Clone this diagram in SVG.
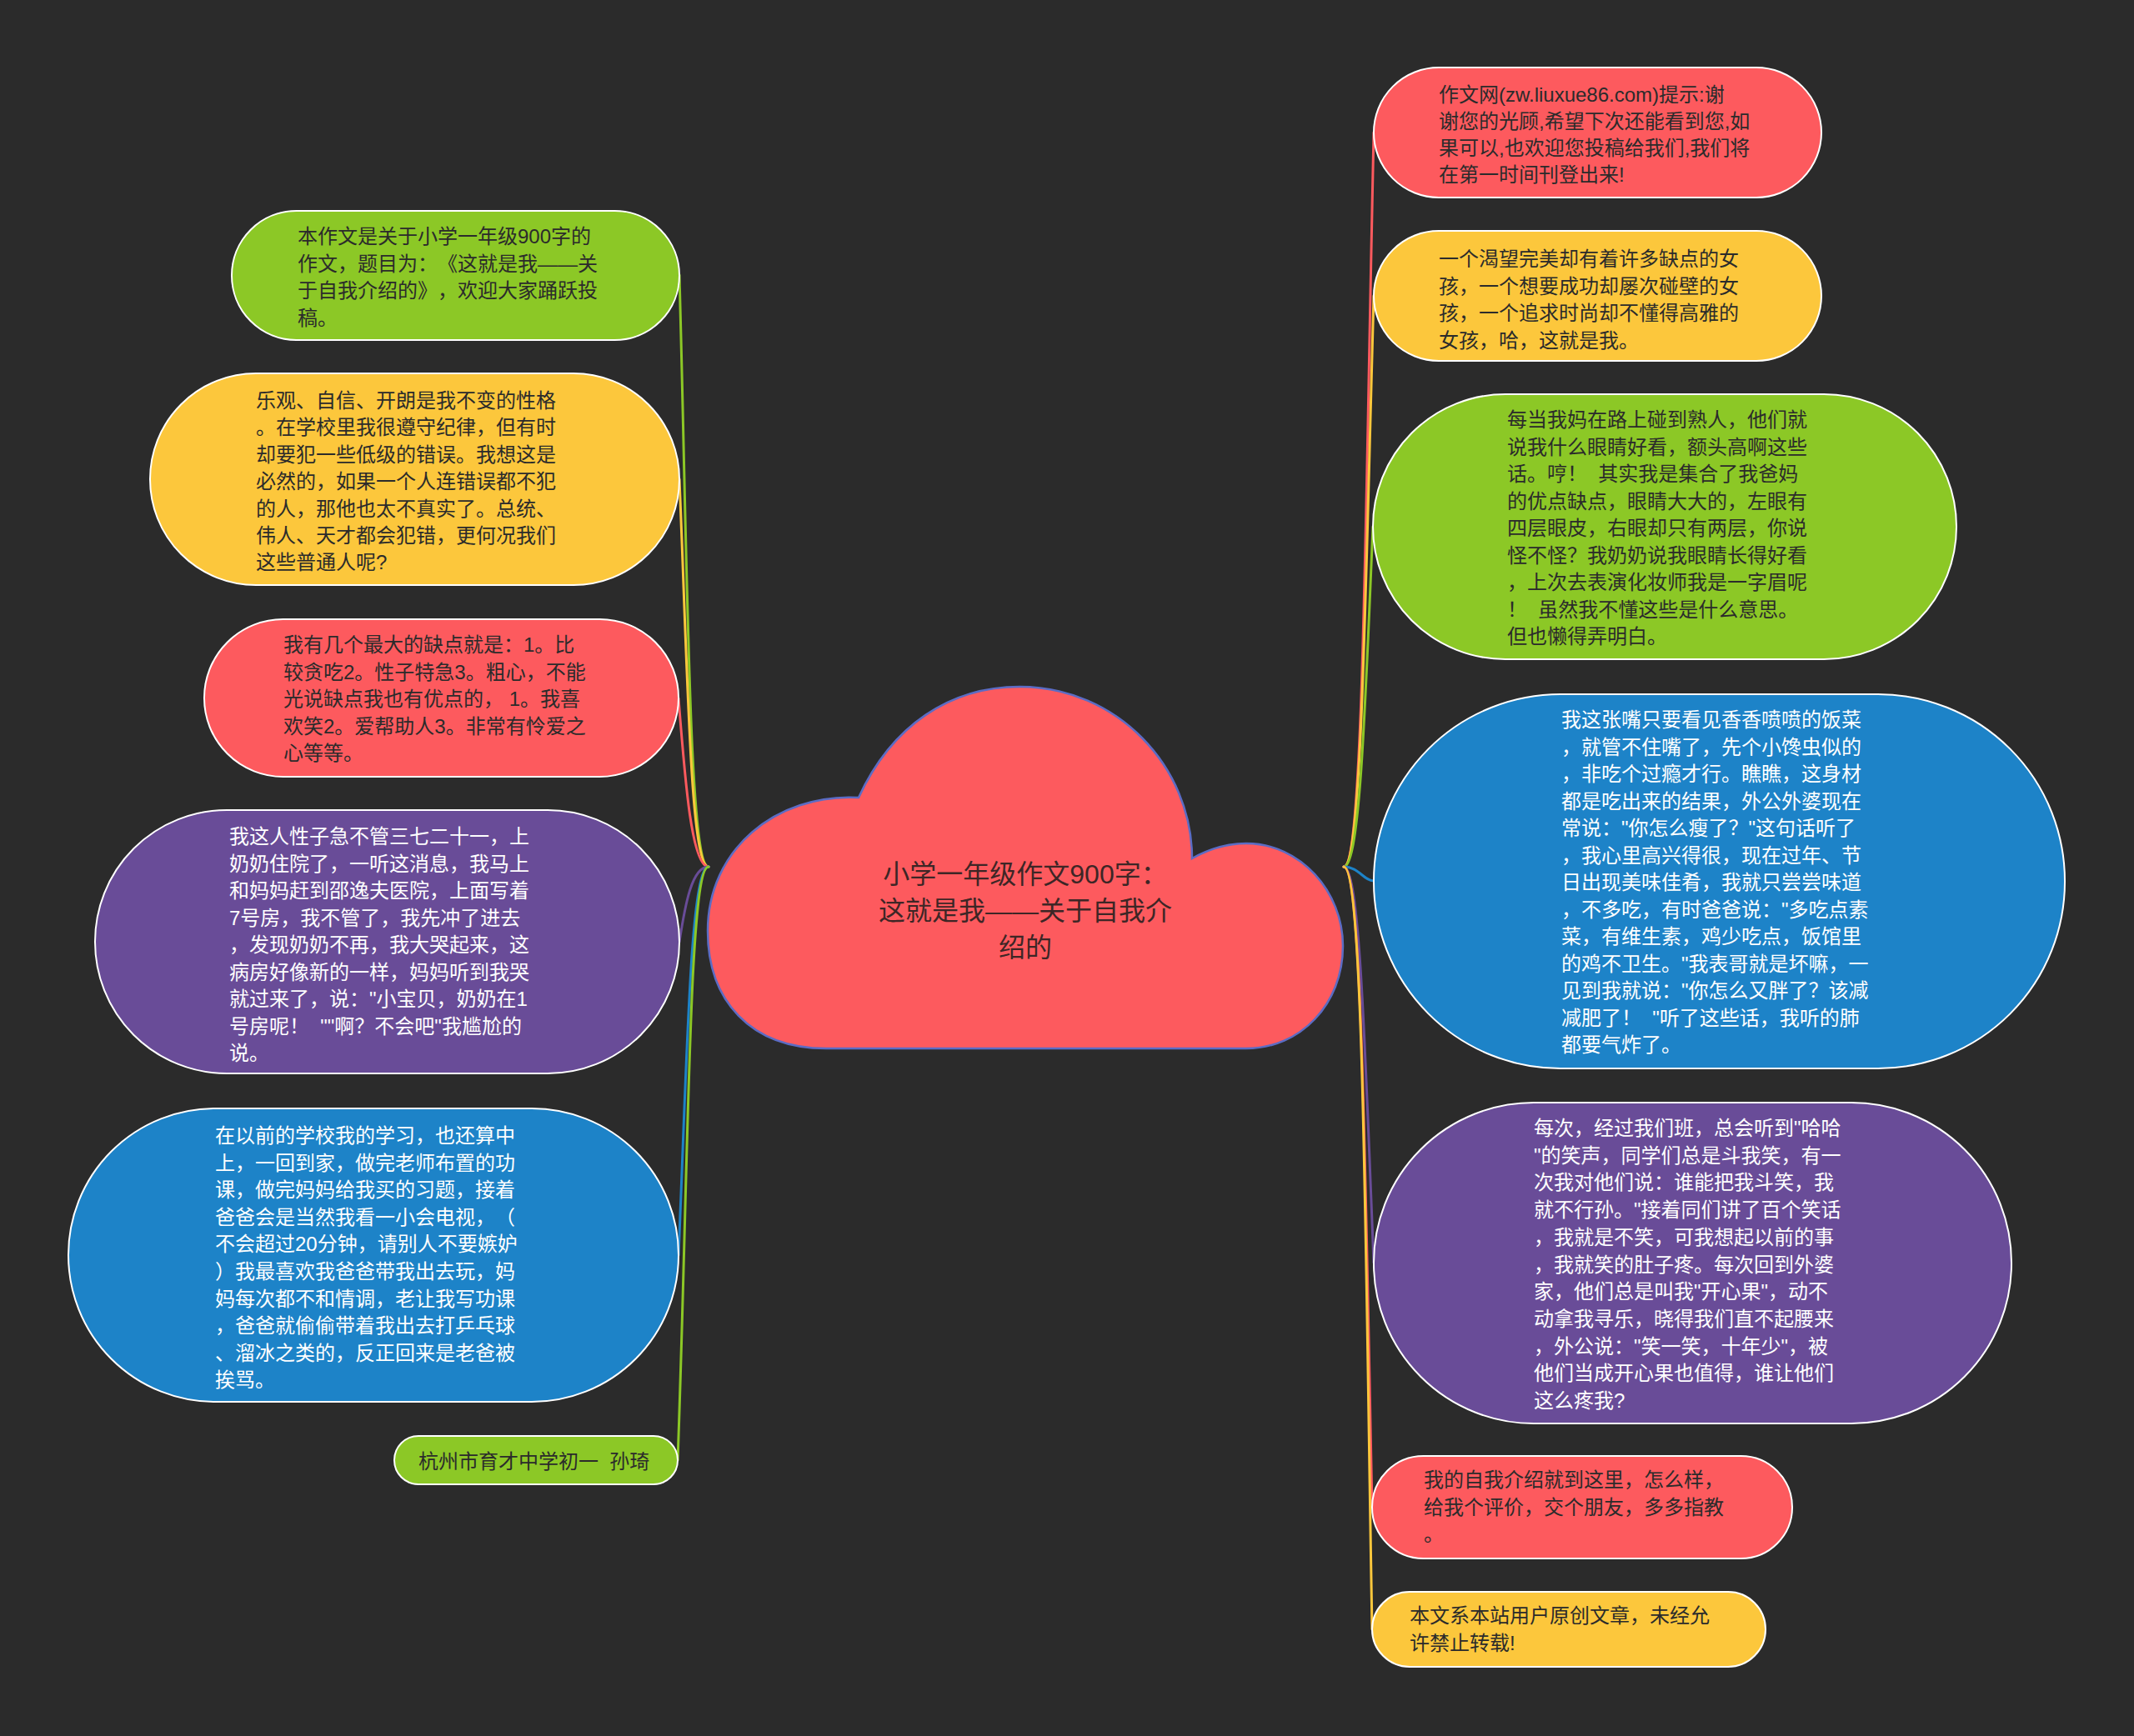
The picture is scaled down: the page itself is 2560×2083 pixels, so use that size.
<svg xmlns="http://www.w3.org/2000/svg" width="2560" height="2083" viewBox="0 0 2560 2083">
<style>
.t{font-family:"Liberation Sans","Noto Sans CJK SC",sans-serif;font-size:24px;dominant-baseline:central;text-spacing-trim:space-all}
.dk{fill:#2b2b2b}
.wt{fill:#ffffff}
.nd{stroke:#ffffff;stroke-width:2}
.red{fill:#fd5a5e}
.yel{fill:#fcc73c}
.grn{fill:#8cc826}
.blu{fill:#1d83c8}
.pur{fill:#694c98}
.c{fill:none;stroke-width:3;stroke-linecap:round}
</style>
<rect width="2560" height="2083" fill="#2b2b2b"/>
<g id="connectors">
<path class="c" stroke="#8cc826" d="M850 1040 C826 1040 825 685 815 330"/>
<path class="c" stroke="#fcc73c" d="M850 1040 C828 1040 825 808 815 575"/>
<path class="c" stroke="#fd5a5e" d="M850 1040 C830 1040 822 940 814 838"/>
<path class="c" stroke="#694c98" d="M850 1040 C830 1040 822 1085 815 1130"/>
<path class="c" stroke="#1d83c8" d="M850 1040 C828 1040 824 1273 814 1506"/>
<path class="c" stroke="#8cc826" d="M850 1040 C826 1040 826 1396 813 1752"/>
<path class="c" stroke="#fd5a5e" d="M1612 1040 C1636 1040 1638 600 1648 159"/>
<path class="c" stroke="#fcc73c" d="M1612 1040 C1634 1040 1638 698 1648 355"/>
<path class="c" stroke="#8cc826" d="M1612 1040 C1632 1040 1638 836 1647 632"/>
<path class="c" stroke="#1d83c8" d="M1612 1040 C1630 1040 1636 1057 1648 1057"/>
<path class="c" stroke="#694c98" d="M1612 1040 C1632 1040 1638 1278 1648 1515"/>
<path class="c" stroke="#fd5a5e" d="M1612 1040 C1634 1040 1638 1424 1646 1808"/>
<path class="c" stroke="#fcc73c" d="M1612 1040 C1636 1040 1638 1498 1646 1955"/>
</g>
<g id="root">
<path d="M991 1258 C900 1258 849 1200 849 1117 C849 1020 930 952 1030 957 C1070 870 1140 824 1223 824 C1340 824 1430 920 1430 1030 C1455 1016 1475 1012 1495 1012 C1560 1012 1611 1070 1611 1135 C1611 1205 1560 1258 1495 1258 Z" fill="#fd5a5e" stroke="#5b6cc4" stroke-width="2.5"/>
<text class="t" style="font-size:32px" fill="#3d2626" text-anchor="middle"><tspan x="1230" y="1049">小学一年级作文900字：</tspan><tspan x="1230" y="1093">这就是我——关于自我介</tspan><tspan x="1230" y="1137">绍的</tspan></text>
</g>
<g id="L1">
<rect class="nd grn" x="278" y="253" width="537" height="155" rx="77.5"/>
<text class="t dk"><tspan x="357" y="283">本作文是关于小学一年级900字的</tspan><tspan x="357" y="315.5">作文，题目为：《这就是我——关</tspan><tspan x="357" y="348">于自我介绍的》，欢迎大家踊跃投</tspan><tspan x="357" y="380.5">稿。</tspan></text>
</g>
<g id="L2">
<rect class="nd yel" x="180" y="448" width="635" height="254" rx="127"/>
<text class="t dk"><tspan x="307" y="480">乐观、自信、开朗是我不变的性格</tspan><tspan x="307" y="512.4">。在学校里我很遵守纪律，但有时</tspan><tspan x="307" y="544.8">却要犯一些低级的错误。我想这是</tspan><tspan x="307" y="577.2">必然的，如果一个人连错误都不犯</tspan><tspan x="307" y="609.6">的人，那他也太不真实了。总统、</tspan><tspan x="307" y="642">伟人、天才都会犯错，更何况我们</tspan><tspan x="307" y="674.4">这些普通人呢?</tspan></text>
</g>
<g id="L3">
<rect class="nd red" x="245" y="743" width="569" height="189" rx="94.5"/>
<text class="t dk"><tspan x="340" y="773">我有几个最大的缺点就是：1。比</tspan><tspan x="340" y="805.5">较贪吃2。性子特急3。粗心，不能</tspan><tspan x="340" y="838">光说缺点我也有优点的， 1。我喜</tspan><tspan x="340" y="870.5">欢笑2。爱帮助人3。非常有怜爱之</tspan><tspan x="340" y="903">心等等。</tspan></text>
</g>
<g id="L4">
<rect class="nd pur" x="114" y="972" width="701" height="316" rx="158"/>
<text class="t wt"><tspan x="275" y="1003">我这人性子急不管三七二十一，上</tspan><tspan x="275" y="1035.5">奶奶住院了，一听这消息，我马上</tspan><tspan x="275" y="1068">和妈妈赶到邵逸夫医院，上面写着</tspan><tspan x="275" y="1100.5">7号房，我不管了，我先冲了进去</tspan><tspan x="275" y="1133">，发现奶奶不再，我大哭起来，这</tspan><tspan x="275" y="1165.5">病房好像新的一样，妈妈听到我哭</tspan><tspan x="275" y="1198">就过来了，说："小宝贝，奶奶在1</tspan><tspan x="275" y="1230.5">号房呢！&#160;&#160;""啊？不会吧"我尴尬的</tspan><tspan x="275" y="1263">说。</tspan></text>
</g>
<g id="L5">
<rect class="nd blu" x="82" y="1330" width="732" height="352" rx="176"/>
<text class="t wt"><tspan x="258" y="1362">在以前的学校我的学习，也还算中</tspan><tspan x="258" y="1394.6">上，一回到家，做完老师布置的功</tspan><tspan x="258" y="1427.2">课，做完妈妈给我买的习题，接着</tspan><tspan x="258" y="1459.8">爸爸会是当然我看一小会电视，（</tspan><tspan x="258" y="1492.4">不会超过20分钟，请别人不要嫉妒</tspan><tspan x="258" y="1525">）我最喜欢我爸爸带我出去玩，妈</tspan><tspan x="258" y="1557.6">妈每次都不和情调，老让我写功课</tspan><tspan x="258" y="1590.2">，爸爸就偷偷带着我出去打乒乓球</tspan><tspan x="258" y="1622.8">、溜冰之类的，反正回来是老爸被</tspan><tspan x="258" y="1655.4">挨骂。</tspan></text>
</g>
<g id="L6">
<rect class="nd grn" x="473" y="1723" width="340" height="58" rx="29"/>
<text class="t dk"><tspan x="502" y="1753">杭州市育才中学初一&#160;&#160;孙琦</tspan></text>
</g>
<g id="R1">
<rect class="nd red" x="1648" y="81" width="537" height="156" rx="78"/>
<text class="t dk"><tspan x="1726" y="113">作文网(zw.liuxue86.com)提示:谢</tspan><tspan x="1726" y="145">谢您的光顾,希望下次还能看到您,如</tspan><tspan x="1726" y="177">果可以,也欢迎您投稿给我们,我们将</tspan><tspan x="1726" y="209">在第一时间刊登出来!</tspan></text>
</g>
<g id="R2">
<rect class="nd yel" x="1648" y="277" width="537" height="156" rx="78"/>
<text class="t dk"><tspan x="1726" y="310">一个渴望完美却有着许多缺点的女</tspan><tspan x="1726" y="342.5">孩，一个想要成功却屡次碰壁的女</tspan><tspan x="1726" y="375">孩，一个追求时尚却不懂得高雅的</tspan><tspan x="1726" y="407.5">女孩，哈，这就是我。</tspan></text>
</g>
<g id="R3">
<rect class="nd grn" x="1647" y="473" width="700" height="318" rx="159"/>
<text class="t dk"><tspan x="1808" y="503">每当我妈在路上碰到熟人，他们就</tspan><tspan x="1808" y="535.5">说我什么眼睛好看，额头高啊这些</tspan><tspan x="1808" y="568">话。哼！&#160;&#160;其实我是集合了我爸妈</tspan><tspan x="1808" y="600.5">的优点缺点，眼睛大大的，左眼有</tspan><tspan x="1808" y="633">四层眼皮，右眼却只有两层，你说</tspan><tspan x="1808" y="665.5">怪不怪？我奶奶说我眼睛长得好看</tspan><tspan x="1808" y="698">，上次去表演化妆师我是一字眉呢</tspan><tspan x="1808" y="730.5">！&#160;&#160;虽然我不懂这些是什么意思。</tspan><tspan x="1808" y="763">但也懒得弄明白。</tspan></text>
</g>
<g id="R4">
<rect class="nd blu" x="1648" y="833" width="829" height="449" rx="224"/>
<text class="t wt"><tspan x="1873" y="863">我这张嘴只要看见香香喷喷的饭菜</tspan><tspan x="1873" y="895.5">，就管不住嘴了，先个小馋虫似的</tspan><tspan x="1873" y="928">，非吃个过瘾才行。瞧瞧，这身材</tspan><tspan x="1873" y="960.5">都是吃出来的结果，外公外婆现在</tspan><tspan x="1873" y="993">常说："你怎么瘦了？"这句话听了</tspan><tspan x="1873" y="1025.5">，我心里高兴得很，现在过年、节</tspan><tspan x="1873" y="1058">日出现美味佳肴，我就只尝尝味道</tspan><tspan x="1873" y="1090.5">，不多吃，有时爸爸说："多吃点素</tspan><tspan x="1873" y="1123">菜，有维生素，鸡少吃点，饭馆里</tspan><tspan x="1873" y="1155.5">的鸡不卫生。"我表哥就是坏嘛，一</tspan><tspan x="1873" y="1188">见到我就说："你怎么又胖了？该减</tspan><tspan x="1873" y="1220.5">减肥了！&#160;&#160;"听了这些话，我听的肺</tspan><tspan x="1873" y="1253">都要气炸了。</tspan></text>
</g>
<g id="R5">
<rect class="nd pur" x="1648" y="1323" width="765" height="385" rx="192"/>
<text class="t wt"><tspan x="1840" y="1353">每次，经过我们班，总会听到"哈哈</tspan><tspan x="1840" y="1385.7">"的笑声，同学们总是斗我笑，有一</tspan><tspan x="1840" y="1418.4">次我对他们说：谁能把我斗笑，我</tspan><tspan x="1840" y="1451.1">就不行孙。"接着同们讲了百个笑话</tspan><tspan x="1840" y="1483.8">，我就是不笑，可我想起以前的事</tspan><tspan x="1840" y="1516.5">，我就笑的肚子疼。每次回到外婆</tspan><tspan x="1840" y="1549.2">家，他们总是叫我"开心果"，动不</tspan><tspan x="1840" y="1581.9">动拿我寻乐，晓得我们直不起腰来</tspan><tspan x="1840" y="1614.6">，外公说："笑一笑，十年少"，被</tspan><tspan x="1840" y="1647.3">他们当成开心果也值得，谁让他们</tspan><tspan x="1840" y="1680">这么疼我?</tspan></text>
</g>
<g id="R6">
<rect class="nd red" x="1646" y="1747" width="504" height="123" rx="61.5"/>
<text class="t dk"><tspan x="1708" y="1775">我的自我介绍就到这里，怎么样，</tspan><tspan x="1708" y="1807.5">给我个评价，交个朋友，多多指教</tspan><tspan x="1708" y="1840">。</tspan></text>
</g>
<g id="R7">
<rect class="nd yel" x="1646" y="1910" width="472" height="90" rx="45"/>
<text class="t dk"><tspan x="1691" y="1938">本文系本站用户原创文章，未经允</tspan><tspan x="1691" y="1971">许禁止转载!</tspan></text>
</g>
</svg>
